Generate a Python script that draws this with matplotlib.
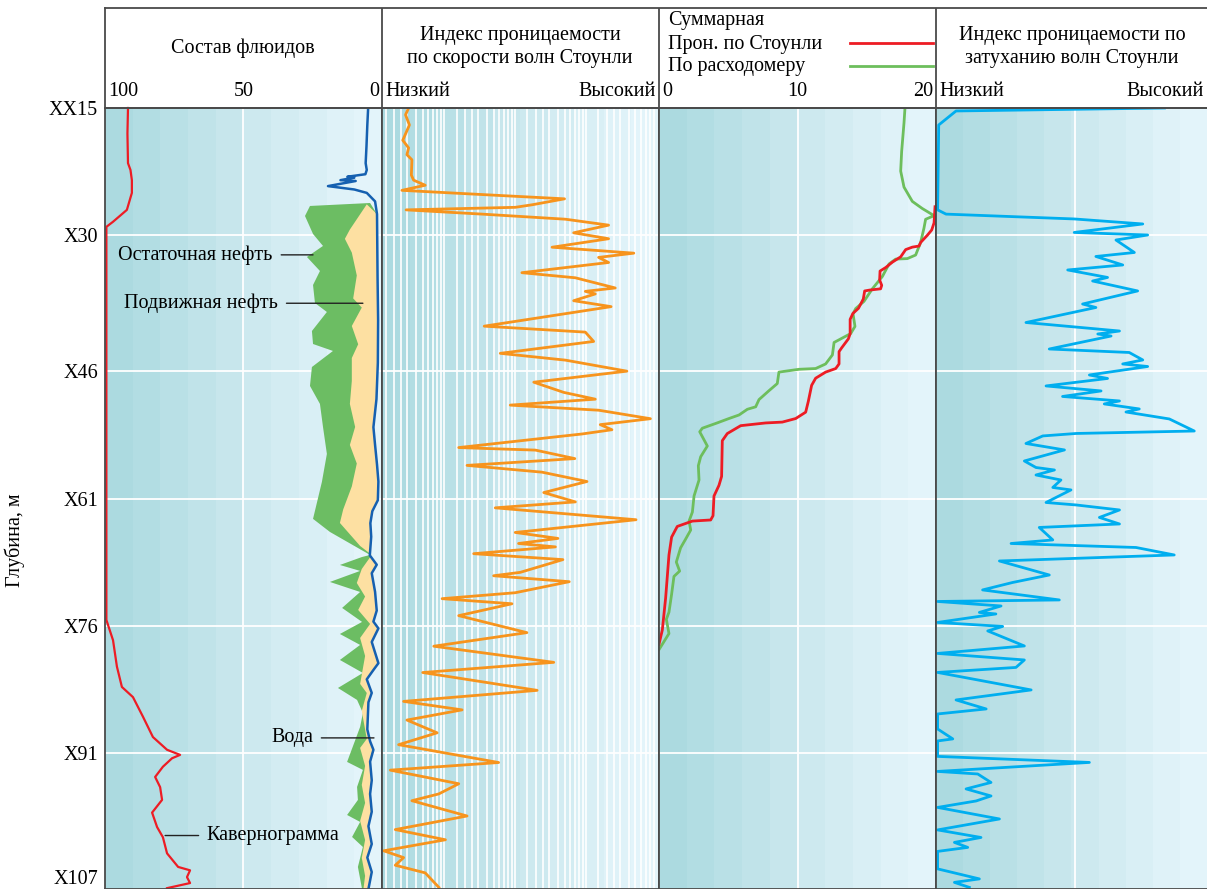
import numpy as np
import matplotlib
matplotlib.use('Agg')
import matplotlib.pyplot as plt
import matplotlib.transforms as mtransforms
from matplotlib.colors import ListedColormap

plt.rcParams['font.family'] = ['Liberation Serif', 'DejaVu Serif']
plt.rcParams['font.size'] = 14.5

# ---------------- data ----------------
depth_ticks = [15, 30, 46, 61, 76, 91, 107]
depth_labels = ['XX15', 'X30', 'X46', 'X61', 'X76', 'X91', 'X107']

# track 1: caliper (%-scale 100..0)
cal_depth = [15.0, 18.0, 21.5, 22.3, 23.5, 25.0, 27.0, 28.4, 29.0, 75.3, 77.7, 80.8, 83.2,
             84.4, 86.7, 89.1, 90.6, 91.2, 91.6, 92.6, 93.8, 95.0, 96.5, 98.0, 99.7,
             100.9, 102.8, 104.4, 104.8, 105.6, 106.3, 106.9]
cal_val = [91.7, 91.9, 91.7, 90.8, 90.3, 90.3, 92.1, 97.1, 99.5, 99.5, 97.1, 95.7, 93.9,
           89.9, 86.3, 82.7, 77.6, 72.9, 75.8, 79.1, 81.9, 80.1, 79.4, 83.0, 81.2,
           79.1, 77.6, 73.6, 69.3, 70.4, 69.3, 77.6]

# track 1: water line (blue)
water_depth = [15.0, 17.0, 19.5, 21.5, 22.3, 22.8, 23.1, 23.2, 23.5, 23.6, 24.2, 24.6, 25.0,
               26.0, 27.5, 35.0, 40.0, 45.0, 49.3, 52.6, 54.7, 57.0, 59.0, 61.2, 62.5,
               63.9, 65.5, 67.7, 68.8, 69.8, 72.0, 74.2, 75.5, 76.3, 77.9, 80.4, 81.2,
               82.3, 83.9, 85.0, 88.2, 89.6, 90.6, 92.0, 94.2, 95.8, 97.9, 99.6, 101.7,
               103.3, 105.0, 107.0]
water_val = [5.0, 5.3, 5.6, 5.9, 5.5, 6.0, 12.5, 10.0, 15.0, 9.5, 19.5, 10.0, 5.5,
             2.5, 1.8, 1.6, 1.4, 1.5, 2.0, 3.1, 2.5, 1.8, 1.3, 1.5, 3.5,
             4.2, 3.9, 4.4, 1.9, 3.7, 2.5, 1.9, 3.1, 1.3, 3.7, 1.3, 3.1,
             5.5, 3.7, 4.9, 5.3, 4.3, 3.1, 4.3, 3.7, 4.3, 3.7, 4.9, 3.7,
             5.3, 3.7, 4.9]

# track 1: residual oil outer boundary (green)
resid_depth = [26.19, 26.54, 27.72, 29.84, 31.25, 32.55, 34.2, 35.85, 37.97, 39.03, 41.27,
               42.8, 43.62, 45.51, 47.74, 49.86, 52.57, 55.75, 59.05, 63.4, 64.94, 67.65,
               67.89, 68.83, 69.53, 70.83, 72.01, 73.89, 75.54, 76.96, 78.25, 80.02,
               81.55, 83.32, 84.73, 86.26, 87.91, 92.03, 92.97, 94.98, 96.51, 98.28,
               99.1, 100.87, 102.05, 104.4, 107.0]
resid_val = [4.3, 26.0, 27.8, 24.9, 21.3, 27.1, 22.4, 24.9, 24.2, 19.9, 25.3,
             24.9, 17.7, 25.3, 26.0, 22.4, 21.3, 19.9, 21.7, 24.9, 18.8, 4.3,
             7.2, 15.2, 7.9, 18.8, 7.9, 14.4, 7.2, 15.2, 7.9, 15.2,
             6.9, 15.9, 9.0, 6.9, 7.9, 12.6, 6.9, 9.0, 8.7, 12.6,
             7.9, 10.8, 6.9, 8.7, 7.2]

# track 1: movable oil outer boundary (tan)
mov_depth = [26.35, 29.32, 30.41, 32.03, 34.73, 37.43, 38.51, 40.68, 42.83, 44.45, 47.16,
             49.86, 52.57, 54.69, 56.88, 59.58, 62.28, 63.88, 66.59, 67.65, 69.3, 70.95,
             72.55, 74.13, 75.78, 77.43, 79.55, 82.84, 83.91, 86.03, 89.32, 90.38,
             92.5, 94.74, 96.86, 98.98, 101.22, 103.34, 105.46, 107.0]
mov_val = [5.5, 11.6, 13.4, 10.9, 9.1, 10.4, 7.3, 10.9, 8.6, 10.9, 10.9,
           11.6, 9.7, 11.6, 9.1, 10.9, 14.0, 15.2, 7.9, 3.7, 7.3, 9.1,
           6.1, 8.6, 4.3, 7.9, 6.1, 7.9, 5.5, 7.3, 5.5, 7.9,
           6.1, 7.3, 6.1, 7.9, 6.1, 7.3, 6.1, 6.7]

# track 2: permeability index from Stoneley slowness (0 low .. 1 high)
vel_depth = [15.0, 15.8, 17.0, 18.8, 19.7, 20.5, 21.1, 22.9, 23.5, 24.1, 24.7, 25.4, 25.7,
             26.4, 26.7, 27.0, 27.5, 28.1, 28.8, 29.7, 30.4, 31.4, 32.1, 32.6, 33.2,
             34.4, 35.0, 36.2, 36.6, 36.9, 37.7, 38.4, 40.7, 41.4, 42.5, 43.9, 44.7,
             46.0, 47.3, 48.5, 49.3, 50.0, 50.6, 51.6, 52.3, 52.9, 53.4, 55.0, 55.3,
             56.3, 57.1, 57.9, 59.0, 60.3, 61.4, 62.1, 63.5, 65.0, 65.7, 66.3, 66.7,
             67.5, 68.2, 69.7, 70.1, 70.8, 72.1, 72.8, 73.4, 74.8, 76.8, 78.4, 80.3,
             81.5, 83.6, 84.9, 85.9, 87.1, 88.6, 90.0, 92.1, 93.0, 94.6, 95.8, 96.6,
             98.4, 100.0, 101.2, 102.5, 103.3, 104.2, 105.1, 106.8]
vel_val = [0.096, 0.085, 0.099, 0.075, 0.096, 0.090, 0.108, 0.106, 0.114, 0.156, 0.072, 0.481, 0.659,
           0.542, 0.481, 0.087, 0.361, 0.662, 0.818, 0.692, 0.818, 0.614, 0.909, 0.782, 0.818,
           0.505, 0.698, 0.842, 0.734, 0.770, 0.692, 0.827, 0.369, 0.734, 0.764, 0.427, 0.662,
           0.884, 0.548, 0.656, 0.770, 0.463, 0.782, 0.969, 0.788, 0.830, 0.722, 0.277, 0.554,
           0.696, 0.307, 0.578, 0.740, 0.584, 0.698, 0.409, 0.917, 0.481, 0.635, 0.493, 0.626,
           0.331, 0.653, 0.499, 0.403, 0.676, 0.481, 0.217, 0.469, 0.277, 0.523, 0.187, 0.620,
           0.147, 0.560, 0.078, 0.289, 0.090, 0.199, 0.060, 0.421, 0.030, 0.277, 0.205, 0.108,
           0.307, 0.048, 0.229, 0.006, 0.078, 0.048, 0.156, 0.205]

# track 3: cumulative flow
stn_depth = [26.63, 28.53, 29.37, 30.0, 30.84, 31.26, 31.39, 31.68, 32.53, 33.16, 33.79, 34.21,
             35.26, 35.89, 36.3, 36.45, 36.55, 37.5, 38.6, 39.2, 39.9, 40.7, 41.6, 42.2,
             43.25, 43.7, 45.15, 45.69, 46.11, 46.83, 47.67, 49.56, 50.83, 51.58, 52.0,
             52.1, 52.42, 53.35, 54.19, 58.4, 59.45, 60.71, 63.03, 63.53, 63.66, 64.29,
             65.55, 67.65, 72.7, 76.49, 78.17]
stn_val = [19.93, 19.86, 19.69, 19.37, 18.89, 18.77, 18.29, 17.81, 17.45, 16.85, 16.37, 15.96,
           15.93, 16.08, 16.0, 15.2, 14.85, 14.75, 14.4, 14.0, 13.8, 13.8, 13.8, 13.67,
           13.19, 13.0, 13.0, 12.76, 12.03, 11.31, 11.02, 10.78, 10.59, 9.87, 8.9,
           7.7, 5.9, 4.93, 4.57, 4.52, 4.33, 3.97, 3.9, 3.73, 2.41, 1.32,
           0.91, 0.72, 0.48, 0.24, 0.0]

flow_depth = [15.0, 16.75, 20.12, 22.43, 24.32, 26.0, 26.84, 27.68, 28.11, 29.16, 30.84, 32.32,
              32.74, 32.8, 33.37, 34.84, 36.31, 37.78, 38.63, 39.25, 40.73, 41.57, 42.62,
              44.09, 45.15, 45.69, 45.78, 46.11, 47.46, 48.3, 49.35, 50.2, 50.49, 51.16,
              51.58, 52.09, 52.72, 53.14, 54.82, 56.08, 57.14, 58.82, 60.71, 62.6, 63.66,
              64.71, 65.76, 66.81, 68.49, 69.55, 70.18, 72.28, 74.39, 75.23, 76.91, 78.8]
flow_val = [17.76, 17.69, 17.52, 17.45, 17.69, 18.29, 19.01, 19.86, 19.25, 19.13, 18.89, 18.53,
            17.93, 17.09, 16.61, 16.13, 15.4, 14.8, 14.2, 14.01, 14.15, 13.84, 12.64,
            12.52, 12.03, 11.31, 10.11, 8.66, 8.54, 7.94, 7.22, 6.98, 6.38, 5.78,
            5.05, 4.21, 3.13, 2.94, 3.49, 3.01, 2.84, 2.89, 2.53, 2.41, 2.17,
            2.29, 1.93, 1.56, 1.25, 1.49, 1.08, 0.91, 0.72, 0.53, 0.72, 0.0]

# track 4: permeability index from Stoneley attenuation (0 low .. 1 high)
att_depth = [15.0, 15.35, 17.0, 27.0, 27.5, 28.07, 28.66, 29.66, 29.96, 30.55, 32.02, 32.49,
             33.49, 34.08, 34.96, 35.38, 36.55, 38.09, 38.5, 40.27, 41.27, 41.62, 41.86,
             43.39, 43.8, 44.68, 45.15, 45.45, 46.45, 46.86, 47.74, 48.33, 48.98, 49.51,
             49.86, 50.45, 50.81, 51.63, 53.05, 53.34, 53.63, 54.52, 55.28, 56.58, 57.35,
             57.64, 58.23, 58.82, 59.7, 59.99, 61.47, 61.76, 62.35, 63.23, 64.0, 64.41,
             65.88, 66.3, 66.77, 67.65, 68.36, 70.01, 70.89, 71.77, 72.95, 73.13, 73.66,
             74.42, 74.6, 75.6, 76.07, 76.6, 78.37, 79.25, 80.02, 80.9, 81.49, 83.55,
             84.73, 85.79, 86.38, 88.15, 89.32, 89.56, 91.38, 92.09, 93.15, 93.45, 94.45,
             95.21, 96.04, 96.63, 97.39, 98.75, 100.04, 100.93, 101.51, 102.1, 102.57,
             104.63, 105.81, 106.22, 106.81]
att_val = [0.843, 0.074, 0.010, 0.006, 0.037, 0.510, 0.763, 0.510, 0.781, 0.664, 0.732, 0.590,
           0.689, 0.486, 0.633, 0.578, 0.744, 0.541, 0.590, 0.332, 0.677, 0.597, 0.646,
           0.418, 0.713, 0.763, 0.689, 0.781, 0.566, 0.633, 0.406, 0.609, 0.467, 0.677,
           0.621, 0.750, 0.701, 0.861, 0.953, 0.517, 0.394, 0.332, 0.474, 0.326, 0.369,
           0.437, 0.369, 0.461, 0.431, 0.498, 0.406, 0.517, 0.677, 0.603, 0.677, 0.381,
           0.431, 0.277, 0.738, 0.879, 0.234, 0.418, 0.283, 0.172, 0.455, 0.006, 0.240,
           0.160, 0.221, 0.006, 0.246, 0.191, 0.326, 0.006, 0.326, 0.295, 0.006, 0.351,
           0.074, 0.185, 0.006, 0.006, 0.062, 0.006, 0.006, 0.566, 0.006, 0.154, 0.203,
           0.111, 0.203, 0.148, 0.006, 0.234, 0.006, 0.166, 0.068, 0.117, 0.006,
           0.006, 0.160, 0.068, 0.123]

# ---------------- layout ----------------
W, H = 1207, 889
fig = plt.figure(figsize=(W / 100, H / 100), dpi=100)

tracks_px = [(105, 382), (382, 659), (659, 936), (936, 1207)]
top_px, bot_px, head_px = 108, 889, 8
spine_c = '#4a4a4a'

bg_cmap = ListedColormap([
    '#acdae0', '#b2dde3', '#b9e0e6', '#c0e3e9', '#c7e6ec',
    '#cde9ef', '#d3ecf2', '#d9eff5', '#dff2f8', '#e3f4fa'])

xlims = [(100, 0), (0, 1), (0, 20), (0, 1)]
axes = []
for (x0, x1), xl in zip(tracks_px, xlims):
    ax = fig.add_axes([x0 / W, 1 - bot_px / H, (x1 - x0) / W, (bot_px - top_px) / H])
    ax.imshow(np.arange(10)[None, :], cmap=bg_cmap, aspect='auto', interpolation='nearest',
              extent=(0, 1, 0, 1), transform=ax.transAxes, zorder=0)
    ax.set_xlim(*xl)
    ax.set_ylim(107, 15)
    for d in depth_ticks[1:-1]:
        ax.axhline(d, color='white', lw=1.3, zorder=1)
    for s in ax.spines.values():
        s.set_color(spine_c)
        s.set_linewidth(1.3)
        s.set_zorder(6)
    ax.tick_params(length=0)
    ax.set_yticks([])
    axes.append(ax)
ax1, ax2, ax3, ax4 = axes
ax4.spines['right'].set_visible(False)

# vertical grids
ax1.axvline(50, color='white', lw=1.3, zorder=1)
ax3.axvline(10, color='white', lw=1.3, zorder=1)
ax4.axvline(0.513, color='white', lw=1.3, zorder=1)
dec_w = 0.256
for s0 in [-0.032, 0.224, 0.480, 0.736]:
    for m in [1, 1.5, 2, 2.5, 3, 4, 5, 6, 7, 8, 9]:
        p = s0 + dec_w * np.log10(m)
        if 0.005 < p < 0.995:
            ax2.axvline(p, color='white', lw=1.2, zorder=1)

# depth axis
ax1.set_yticks(depth_ticks)
ax1.set_yticklabels(depth_labels)
ax1.tick_params(axis='y', pad=5)
last = ax1.get_yticklabels()[-1]
last.set_transform(last.get_transform() + mtransforms.ScaledTranslation(0, 12 / 100, fig.dpi_scale_trans))
fig.text(15 / W, 1 - 540 / H, 'Глубина, м', rotation=90, ha='center', va='center')

# top tick labels
def top_ticks(ax, ticks, labels, aligns):
    ax.xaxis.tick_top()
    ax.set_xticks(ticks)
    ax.set_xticklabels(labels)
    ax.tick_params(axis='x', pad=5)
    for lbl, ha in zip(ax.get_xticklabels(), aligns):
        lbl.set_ha(ha)
        dx = {'left': 3, 'center': 0, 'right': -3}[ha] / 100.0
        lbl.set_transform(lbl.get_transform() + mtransforms.ScaledTranslation(dx, 0, fig.dpi_scale_trans))

top_ticks(ax1, [100, 50, 0], ['100', '50', '0'], ['left', 'center', 'right'])
top_ticks(ax2, [0, 1], ['Низкий', 'Высокий'], ['left', 'right'])
top_ticks(ax3, [0, 10, 20], ['0', '10', '20'], ['left', 'center', 'right'])
top_ticks(ax4, [0, 1], ['Низкий', 'Высокий'], ['left', 'right'])

# ---------------- track 1 ----------------
water_depth_a = np.array(water_depth)
water_val_a = np.array(water_val)
m_g = water_depth_a >= resid_depth[0]
ax1.fill(np.concatenate([resid_val, water_val_a[m_g][::-1]]),
         np.concatenate([resid_depth, water_depth_a[m_g][::-1]]),
         color='#6cbd63', lw=0, zorder=2)
m_t = water_depth_a >= mov_depth[0]
ax1.fill(np.concatenate([mov_val, water_val_a[m_t][::-1]]),
         np.concatenate([mov_depth, water_depth_a[m_t][::-1]]),
         color='#fde0a2', lw=0, zorder=3)
ax1.plot(water_val, water_depth, color='#1560b0', lw=1.8, zorder=4)
ax1.plot(cal_val, cal_depth, color='#ed1c24', lw=1.6, zorder=4, clip_on=False)

line_kw = dict(arrowstyle='-', color='#222222', lw=1.0, shrinkA=4, shrinkB=0)
ax1.annotate('Остаточная нефть', xy=(24.9, 32.3), xytext=(39.4, 32.3),
             ha='right', va='center', arrowprops=line_kw, zorder=7)
ax1.annotate('Подвижная нефть', xy=(6.9, 38.0), xytext=(37.5, 38.0),
             ha='right', va='center', arrowprops=line_kw, zorder=7)
ax1.annotate('Вода', xy=(2.9, 89.2), xytext=(24.9, 89.2),
             ha='right', va='center', arrowprops=line_kw, zorder=7)
ax1.annotate('Кавернограмма', xy=(78.3, 100.7), xytext=(63.2, 100.7),
             ha='left', va='center', arrowprops=line_kw, zorder=7)

# ---------------- track 2 ----------------
ax2.plot(vel_val, vel_depth, color='#f7941d', lw=2.0, zorder=4)

# ---------------- track 3 ----------------
ax3.plot(flow_val, flow_depth, color='#6dbe5c', lw=2.0, zorder=4)
ax3.plot(stn_val, stn_depth, color='#ed1c24', lw=2.0, zorder=5)

# ---------------- track 4 ----------------
ax4.plot(att_val, att_depth, color='#00aeef', lw=2.0, zorder=4)

# ---------------- header ----------------
hax = fig.add_axes([105 / W, 1 - top_px / H, (W - 105) / W, (top_px - head_px) / H])
hax.set_xlim(105, W)
hax.set_ylim(top_px, head_px)
hax.set_xticks([])
hax.set_yticks([])
hax.patch.set_alpha(0)
for k, s in hax.spines.items():
    s.set_color(spine_c)
    s.set_linewidth(1.3)
hax.spines['right'].set_visible(False)
for x0, _ in tracks_px[1:]:
    hax.axvline(x0, color=spine_c, lw=1.3)

hax.text(243, 48, 'Состав флюидов', ha='center', va='center')
hax.text(520, 47, 'Индекс проницаемости\nпо скорости волн Стоунли', ha='center', va='center',
         linespacing=1.35)
hax.text(668, 21, 'Суммарная', ha='left', va='center')
hax.text(668, 44, 'Прон. по Стоунли', ha='left', va='center')
hax.text(668, 67, 'По расходомеру', ha='left', va='center')
hax.plot([850, 933], [43, 43], color='#ed1c24', lw=2.0)
hax.plot([850, 933], [66, 66], color='#6dbe5c', lw=2.0)
hax.text(1072, 47, 'Индекс проницаемости по\nзатуханию волн Стоунли', ha='center', va='center',
         linespacing=1.35)

fig.savefig('out.png', dpi=100)
